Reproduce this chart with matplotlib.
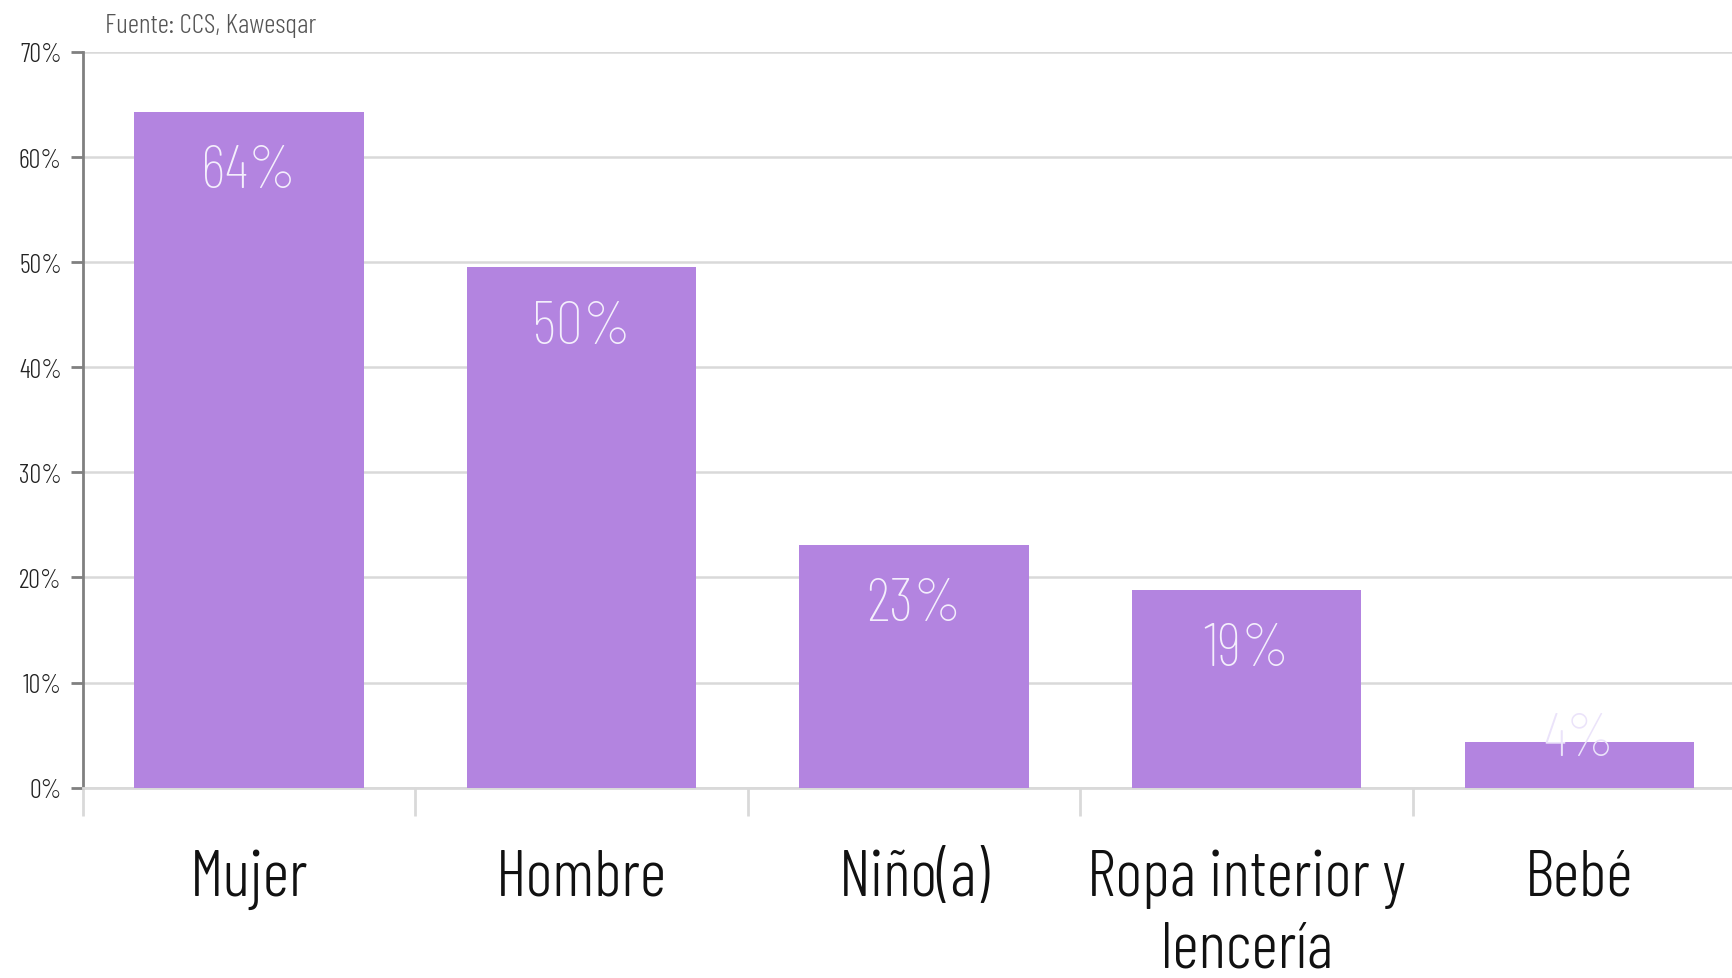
import matplotlib
matplotlib.use("Agg")
import matplotlib.pyplot as plt

categories = ["Mujer", "Hombre", "Niño(a)", "Ropa interior y\nlencería", "Bebé"]
values = [64.3, 49.5, 23.1, 18.8, 4.3]
labels = ["64%", "50%", "23%", "19%", "4%"]
yticks = [0, 10, 20, 30, 40, 50, 60, 70]
source = "Fuente: CCS, Kawesqar"

plt.rcParams["font.family"] = ["Barlow Condensed", "DejaVu Sans"]

fig = plt.figure(figsize=(17.32, 9.79), dpi=100)
ax = fig.add_axes([0.0478, 0.1944, 0.960, 0.7515])

x = list(range(len(categories)))
bar_color = "#b384e0"
ax.bar(x, values, width=0.69, color=bar_color, zorder=3)

for xi, v, lab in zip(x, values, labels):
    if v < 10:
        ax.annotate(lab, (xi, v), xytext=(0, 2), textcoords="offset points",
                    ha="center", va="center", fontsize=44, color="#ebe3fa",
                    fontweight=200, zorder=4)
    else:
        ax.annotate(lab, (xi, v), xytext=(0, -43), textcoords="offset points",
                    ha="center", va="center", fontsize=44, color="#f4effc",
                    fontweight=200, zorder=4)

ax.set_xlim(-0.5, len(categories) - 0.5)
ax.set_ylim(0, 70)
ax.set_yticks(yticks)
ax.set_yticklabels([f"{t}%" for t in yticks], fontsize=19, color="#222222", fontweight=300)
ax.set_xticks(x)
ax.set_xticklabels(categories, fontsize=47, color="#111111", linespacing=1.27, fontweight=300)
ax.tick_params(axis="x", which="major", length=0, pad=44)
ax.set_xticks([i - 0.5 for i in range(len(categories))], minor=True)
ax.tick_params(axis="x", which="minor", length=20, width=2, color="#d9d9d9")
ax.tick_params(axis="y", length=9, width=2, color="#808080", pad=6)

ax.grid(axis="y", color="#d9d9d9", linewidth=1.8, zorder=0)
for s in ["top", "right"]:
    ax.spines[s].set_visible(False)
ax.spines["left"].set_color("#808080")
ax.spines["left"].set_linewidth(2)
ax.spines["bottom"].set_color("#d9d9d9")
ax.spines["bottom"].set_linewidth(2)

fig.text(0.0606, 0.973, source, ha="left", va="center", fontsize=20, color="#555555",
         fontweight=300)

fig.savefig("out.png", dpi=100)
